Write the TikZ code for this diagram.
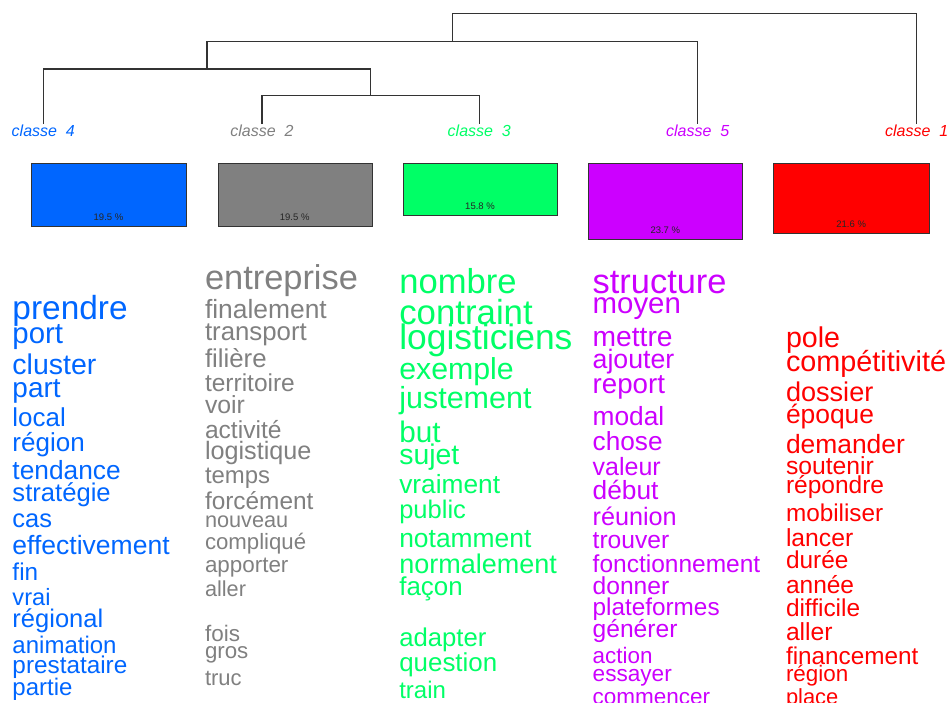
\documentclass[tikz,border=0pt]{standalone}
\usepackage{fontspec}
\setmainfont{Liberation Sans}
\definecolor{cblue}{RGB}{0,102,255}
\definecolor{cgray}{RGB}{128,128,128}
\definecolor{cgreen}{RGB}{0,255,102}
\definecolor{cpurple}{RGB}{204,0,255}
\definecolor{cred}{RGB}{255,0,0}
\definecolor{dline}{RGB}{51,51,51}
\tikzset{
 wd/.style={font=\fontsize{#1}{#1}\selectfont, anchor=base west, inner sep=0pt, outer sep=0pt},
 lbl/.style={font=\fontsize{16}{16}\selectfont\itshape, anchor=base, inner sep=0pt},
 boxs/.style={draw=black!80, line width=1.1pt, anchor=north west, inner sep=0pt, minimum width=#1},
 pct/.style={font=\fontsize{9.5}{9.5}\selectfont, anchor=base, inner sep=0pt, text=black!85},
 dend/.style={draw=dline, line width=1.3pt}
}
\begin{document}
\begin{tikzpicture}[x=1pt,y=-1pt]
\useasboundingbox (0,0) rectangle (950,702);
% dendrogram
\coordinate (L4) at (43.3,124);
\coordinate (L2) at (262,124);
\coordinate (L3) at (479.3,124);
\coordinate (L5) at (697.7,124);
\coordinate (L1) at (916.7,124);
\coordinate (m1) at (370.7,95.3);
\coordinate (m2) at (207,69);
\coordinate (m3) at (452.5,41.3);
\coordinate (m4) at (684.7,13.3);
\draw[dend] (L2) |- (m1) -| (L3);
\draw[dend] (L4) |- (m2) -| (m1);
\draw[dend] (m2) |- (m3) -| (L5);
\draw[dend] (m3) |- (m4) -| (L1);
% labels
\node[lbl, text=cblue] (c4) at (43.3,136) {classe\ \ 4};
\node[lbl, text=cgray] (c2) at (262,136) {classe\ \ 2};
\node[lbl, text=cgreen] (c3) at (479.3,136) {classe\ \ 3};
\node[lbl, text=cpurple] (c5) at (697.7,136) {classe\ \ 5};
\node[lbl, text=cred] (c1) at (916.7,136) {classe\ \ 1};
% boxes
\node[boxs=155pt, fill=cblue, minimum height=62.7pt] (b4) at (31,163.3) {};
\node[boxs=154pt, fill=cgray, minimum height=62.7pt] (b2) at (217.7,163.3) {};
\node[boxs=154pt, fill=cgreen, minimum height=51.7pt] (b3) at (403,163.3) {};
\node[boxs=154pt, fill=cpurple, minimum height=76pt] (b5) at (588.3,163.3) {};
\node[boxs=155.7pt, fill=cred, minimum height=69.4pt] (b1) at (773.3,163.3) {};
\node[pct] (p4) at (108.5,220.5) {19.5 \%};
\node[pct] (p2) at (294.7,220.5) {19.5 \%};
\node[pct] (p3) at (480,209.5) {15.8 \%};
\node[pct] (p5) at (665.3,233.8) {23.7 \%};
\node[pct] (p1) at (851.2,227.2) {21.6 \%};
% class 4 words
\begin{scope}[text=cblue]
\node[wd=33.4] (a1) at (12.5,319) {prendre};
\node[wd=29.4] (a2) at (12.5,343) {port};
\node[wd=28.5] (a3) at (12.5,374) {cluster};
\node[wd=27.9] (a4) at (12.5,397) {part};
\node[wd=25.9] (a5) at (12.5,426) {local};
\node[wd=26] (a6) at (12.5,451) {région};
\node[wd=26.3] (a7) at (12.5,479) {tendance};
\node[wd=25.6] (a8) at (12.5,501) {stratégie};
\node[wd=25.5] (a9) at (12.5,527) {cas};
\node[wd=26.5] (a10) at (12.5,554) {effectivement};
\node[wd=24.3] (a11) at (12.5,580) {fin};
\node[wd=23.6] (a12) at (12.5,605) {vrai};
\node[wd=25.5] (a13) at (12.5,627) {régional};
\node[wd=24] (a14) at (12.5,653) {animation};
\node[wd=24.3] (a15) at (12.5,673) {prestataire};
\node[wd=24] (a16) at (12.5,695) {partie};
\end{scope}
% class 2 words
\begin{scope}[text=cgray]
\node[wd=34.4] (g1) at (205,289) {entreprise};
\node[wd=26.4] (g2) at (205,318) {finalement};
\node[wd=25.8] (g3) at (205,340) {transport};
\node[wd=25.8] (g4) at (205,367) {filière};
\node[wd=24.5] (g5) at (205,391) {territoire};
\node[wd=24.8] (g6) at (205,413) {voir};
\node[wd=24.6] (g7) at (205,438) {activité};
\node[wd=25.2] (g8) at (205,459) {logistique};
\node[wd=23.9] (g9) at (205,483) {temps};
\node[wd=24.4] (g10) at (205,509) {forcément};
\node[wd=21.7] (g11) at (205,527) {nouveau};
\node[wd=22.2] (g12) at (205,549) {compliqué};
\node[wd=22.4] (g13) at (205,572) {apporter};
\node[wd=21.7] (g14) at (205,596) {aller};
\node[wd=22.5] (g15) at (205,641) {fois};
\node[wd=22.3] (g16) at (205,658) {gros};
\node[wd=22] (g17) at (205,685) {truc};
\end{scope}
% class 3 words
\begin{scope}[text=cgreen]
\node[wd=34.6] (v1) at (399.3,293) {nombre};
\node[wd=34.8] (v2) at (399.3,324) {contraint};
\node[wd=35.4] (v3) at (399.3,349) {logisticiens};
\node[wd=30.3] (v4) at (399.3,379) {exemple};
\node[wd=30.5] (v5) at (399.3,408) {justement};
\node[wd=29.7] (v6) at (399.3,442) {but};
\node[wd=28.4] (v7) at (399.3,464) {sujet};
\node[wd=26.3] (v8) at (399.3,493) {vraiment};
\node[wd=25.5] (v9) at (399.3,518) {public};
\node[wd=26.4] (v10) at (399.3,547) {notamment};
\node[wd=27] (v11) at (399.3,573) {normalement};
\node[wd=25.9] (v12) at (399.3,595) {façon};
\node[wd=25.7] (v13) at (399.3,646) {adapter};
\node[wd=25.9] (v14) at (399.3,671) {question};
\node[wd=24] (v15) at (399.3,698) {train};
\end{scope}
% class 5 words
\begin{scope}[text=cpurple]
\node[wd=34.4] (s1) at (592.7,293) {structure};
\node[wd=29.4] (s2) at (592.7,313) {moyen};
\node[wd=28.2] (s3) at (592.7,346) {mettre};
\node[wd=26.7] (s4) at (592.7,368) {ajouter};
\node[wd=27.7] (s5) at (592.7,393) {report};
\node[wd=26.3] (s6) at (592.7,425) {modal};
\node[wd=26.2] (s7) at (592.7,450) {chose};
\node[wd=25] (s8) at (592.7,475) {valeur};
\node[wd=26.3] (s9) at (592.7,499) {début};
\node[wd=25.2] (s10) at (592.7,525) {réunion};
\node[wd=24.6] (s11) at (592.7,548) {trouver};
\node[wd=24.5] (s12) at (592.7,572) {fonctionnement};
\node[wd=24.6] (s13) at (592.7,594) {donner};
\node[wd=24.3] (s14) at (592.7,615) {plateformes};
\node[wd=24.6] (s15) at (592.7,637) {générer};
\node[wd=22.4] (s16) at (592.7,663) {action};
\node[wd=22.6] (s17) at (592.7,681) {essayer};
\node[wd=22.5] (s18) at (592.7,704) {commencer};
\end{scope}
% class 1 words
\begin{scope}[text=cred]
\node[wd=28.6] (r1) at (786,347) {pole};
\node[wd=28.8] (r2) at (786,371) {compétitivité};
\node[wd=27.1] (r3) at (786,401) {dossier};
\node[wd=26.4] (r4) at (786,423) {époque};
\node[wd=26.4] (r5) at (786,453) {demander};
\node[wd=24.7] (r6) at (786,474) {soutenir};
\node[wd=24.5] (r7) at (786,493) {répondre};
\node[wd=24.3] (r8) at (786,521) {mobiliser};
\node[wd=24.7] (r9) at (786,546) {lancer};
\node[wd=24.4] (r10) at (786,568) {durée};
\node[wd=24.5] (r11) at (786,593) {année};
\node[wd=24.4] (r12) at (786,616) {difficile};
\node[wd=24.7] (r13) at (786,640) {aller};
\node[wd=24.3] (r14) at (786,664) {financement};
\node[wd=22.4] (r15) at (786,681) {région};
\node[wd=21.9] (r16) at (786,704) {place};
\end{scope}
\end{tikzpicture}
\end{document}
